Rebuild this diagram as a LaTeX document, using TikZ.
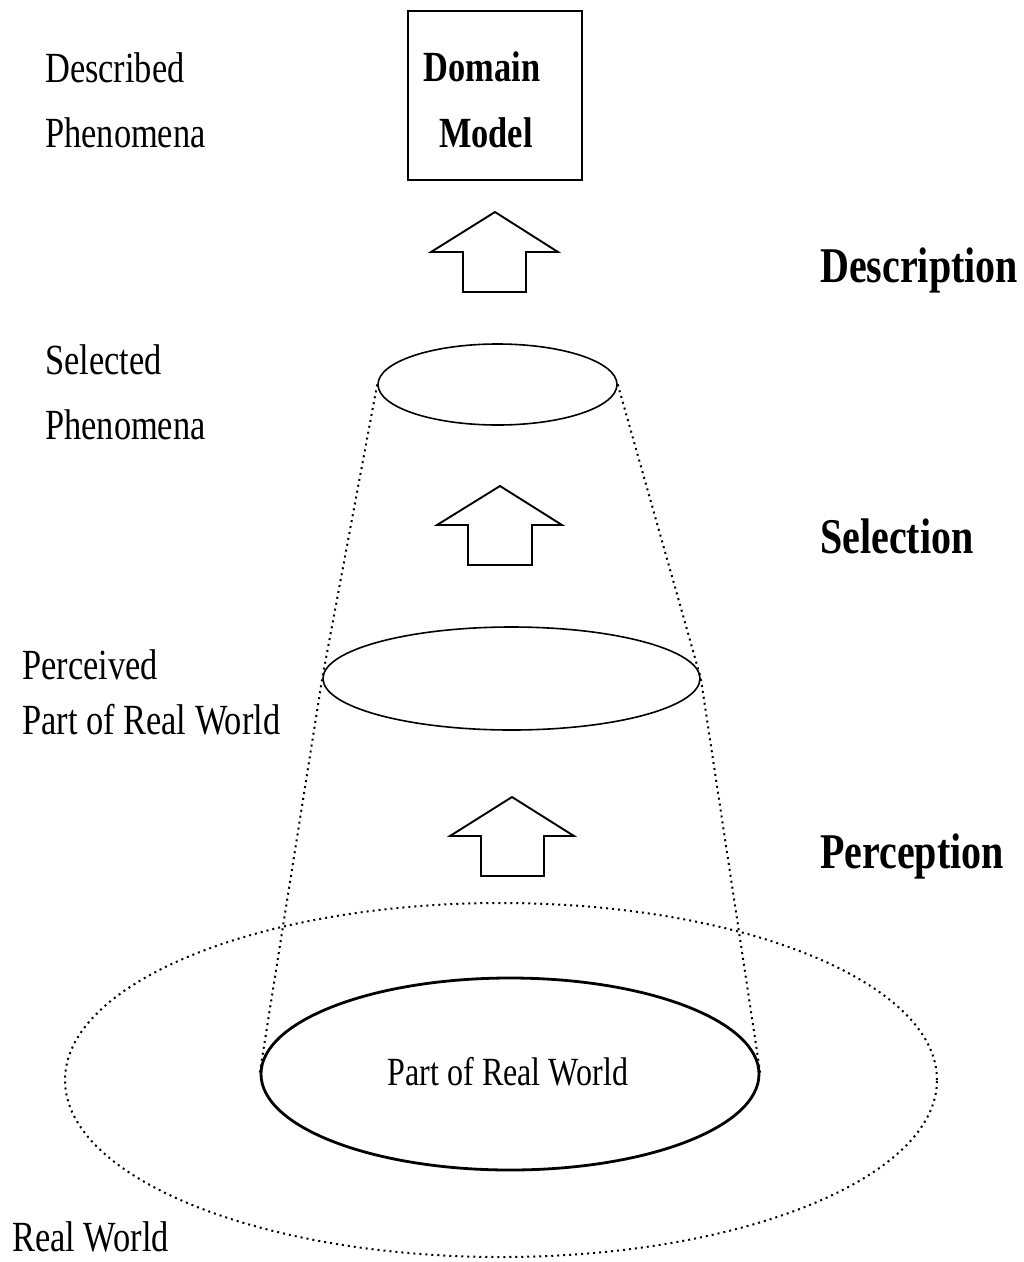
\documentclass[tikz,border=0pt]{standalone}
\usepackage{fontspec}
\setmainfont{Liberation Serif}[FakeStretch=0.8]
\usetikzlibrary{shapes.geometric}
\begin{document}
\begin{tikzpicture}[x=1pt,y=-1pt,
  lbl/.style={anchor=base west, inner sep=0pt, font=\fontsize{43}{50}\selectfont},
  boldlbl/.style={anchor=base, inner sep=0pt, font=\fontsize{43}{50}\selectfont\bfseries},
  big/.style={anchor=base west, inner sep=0pt, font=\fontsize{50}{58}\selectfont\bfseries},
  ell/.style={draw, ellipse, line width=1.6pt, inner sep=0pt},
  blockarrow/.style={draw, line width=1.9pt, line join=miter},
  cone/.style={line width=2pt, dash pattern=on 2pt off 4pt},
]
\useasboundingbox (0,0) rectangle (1024,1262);

% domain model box
\node[draw, line width=1.6pt, minimum width=174pt, minimum height=169pt, inner sep=0pt] (dm) at (495,95.5) {};
\node[boldlbl] (dom) at (482,81) {Domain};
\node[boldlbl] (mod) at (486,147) {Model};

% block arrows
\draw[blockarrow] (495,212) -- (558,252) -- (526,252) -- (526,292) -- (463,292) -- (463,252) -- (431,252) -- cycle;
\draw[blockarrow] (500,486) -- (562,525) -- (532,525) -- (532,565) -- (468,565) -- (468,525) -- (437,525) -- cycle;
\draw[blockarrow] (512,797) -- (574,836) -- (544,836) -- (544,876) -- (481,876) -- (481,836) -- (450,836) -- cycle;

% outer real world ellipse
\node[draw, ellipse, cone, inner sep=0pt, minimum width=872pt, minimum height=354pt] (rw) at (501,1080) {};

% ellipses
\node[ell, minimum width=239pt, minimum height=81pt] (sel) at (497.5,384.5) {};
\node[ell, minimum width=377pt, minimum height=103pt] (per) at (511.5,678.5) {};
\node[ell, line width=2.8pt, draw=black, minimum width=498pt, minimum height=192pt] (part) at (510,1074) {};

% cone lines
\draw[cone] (sel.west) -- (per.west) -- (part.west);
\draw[cone] (sel.east) -- (per.east) -- (part.east);

% texts
\node[lbl] (t1) at (45,82) {Described};
\node[lbl] (t2) at (45,147) {Phenomena};
\node[lbl] (t5) at (45,374) {Selected};
\node[lbl] (t6) at (45,439) {Phenomena};
\node[lbl] (t7) at (22,679) {Perceived};
\node[lbl] (t8) at (22,734) {Part of Real World};
\node[lbl] (t9) at (12,1251) {Real World};
\node[big] (d) at (820,282) {Description};
\node[big] (s) at (820,553) {Selection};
\node[big] (p) at (820,868) {Perception};
\node[anchor=base, inner sep=0pt, font=\fontsize{40}{46}\selectfont, text=black] (prw) at (508,1085) {Part of Real World};
\end{tikzpicture}
\end{document}
